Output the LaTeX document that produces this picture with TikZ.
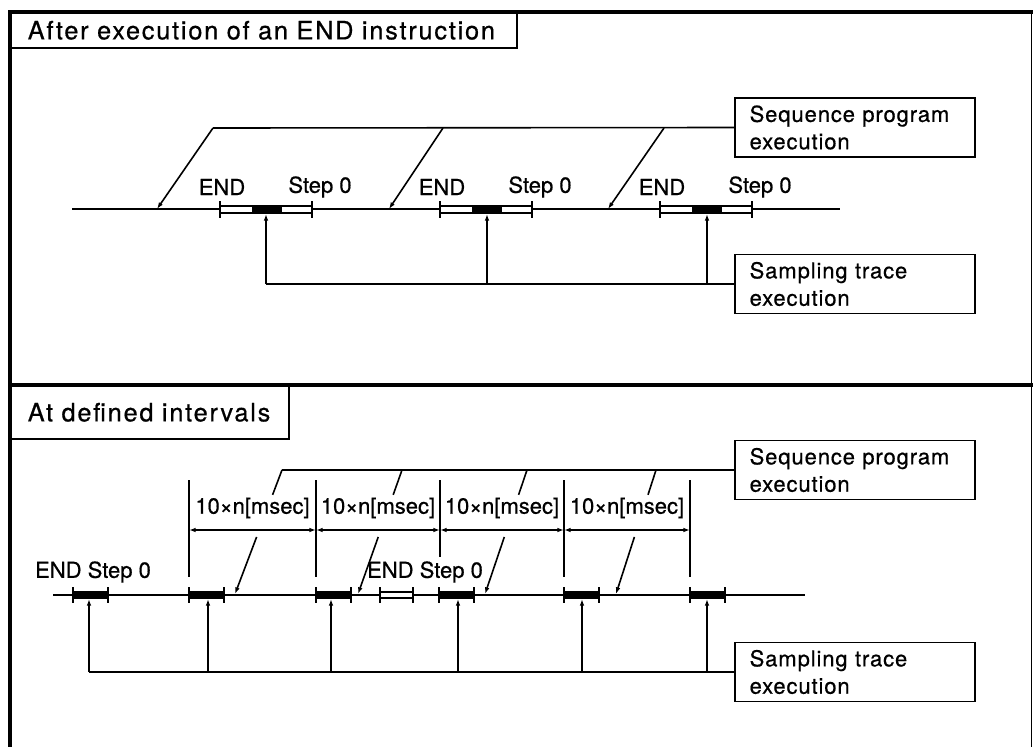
\documentclass[tikz,border=0pt]{standalone}
\usepackage{fontspec}
\setmainfont{TeX Gyre Heros}[FakeBold=0.6]
\newfontfamily\titlefont{TeX Gyre Heros}[LetterSpace=7,FakeBold=0.6]
\newfontfamily\boxfont{TeX Gyre Heros}[LetterSpace=4,FakeBold=0.6]
\usetikzlibrary{arrows.meta,calc}
\begin{document}
\begin{tikzpicture}[x=0.75pt,y=-0.75pt,
  frameline/.style={line width=2.4pt},
  thin/.style={line width=1.2pt},
  titlebox/.style={draw, thin, anchor=north west, inner xsep=12.75pt,
    align=left, font=\titlefont\fontsize{19}{22}\selectfont},
  infobox/.style={draw, thin, minimum width=180pt, minimum height=44.25pt,
    inner xsep=11pt, text width=158pt, align=left,
    font=\boxfont\fontsize{16.5}{20.5}\selectfont},
  lbl/.style={inner sep=0pt, font=\fontsize{16.5}{18}\selectfont},
  tip/.style={-{Latex[length=5pt,width=3.5pt]}},
  tips/.style={{Latex[length=5pt,width=3.5pt]}-{Latex[length=5pt,width=3.5pt]}},
  whitebar/.style={draw, fill=white, line width=1pt}]
\useasboundingbox (0,0) rectangle (1033,747);

% ---------- frame and panel titles ----------
\node[titlebox, minimum width=379.5pt, minimum height=26.25pt, text width=354pt]
  (ttlA) at (10,12) {After execution of an END instruction};
\node[titlebox, minimum width=208.5pt, minimum height=39.75pt, text width=183pt]
  (ttlB) at (10,385) {At defined intervals};
\draw[frameline] (1033,12) -- (10,12) -- (10,747);
\draw[frameline] (10,385) -- (1033,385);
\draw[line width=0.6pt] (1031.5,12) -- (1031.5,747);

% ---------- upper panel: sampling after END ----------
\node[infobox] (seqA) at (855,127.5) {Sequence program\\execution};
\node[infobox] (smpA) at (855,284) {Sampling trace\\execution};

\draw[thin] (72,209) -- (840,209);

\foreach \L in {220,440,660}{
  \draw[whitebar] (\L,206) rectangle (\L+92,213);
  \fill (\L+32,205) rectangle (\L+62,214);
  \draw[thin] (\L,201) -- (\L,218) (\L+92,201) -- (\L+92,218);
  \node[lbl] at (\L+2,187) {END};
  \node[lbl] at (\L+100,187) {Step 0};
}

% program execution run between END processings
\coordinate (pa1) at (157,209); \coordinate (qa1) at (213,128);
\coordinate (pa2) at (389,209); \coordinate (qa2) at (443,128);
\coordinate (pa3) at (608,209); \coordinate (qa3) at (664,128);
\draw[thin] (qa1) -- (seqA.west);
\foreach \i in {1,2,3} \draw[thin, tip] (qa\i) -- (pa\i);

% sampling trace taken at each END
\coordinate (ua1) at (266,284); \coordinate (va1) at (266,214);
\coordinate (ua2) at (487,284); \coordinate (va2) at (487,214);
\coordinate (ua3) at (707,284); \coordinate (va3) at (707,214);
\draw[thin] (ua1) -- (smpA.west);
\foreach \i in {1,2,3} \draw[thin, tip] (ua\i) -- (va\i);

% ---------- lower panel: sampling at fixed intervals ----------
\node[infobox] (seqB) at (855,470) {Sequence program\\execution};
\node[infobox] (smpB) at (855,672) {Sampling trace\\execution};

\draw[thin] (53,595) -- (805,595);

\foreach \L in {73,189,316,439,564,690}{
  \fill (\L,591) rectangle (\L+35,599);
  \draw[thin] (\L,587) -- (\L,603) (\L+35,587) -- (\L+35,603);
}
\draw[whitebar] (380,592) rectangle (413,598);
\draw[thin] (380,587) -- (380,603) (413,587) -- (413,603);

\node[lbl] (esB1) at (93,572) {END Step 0};
\node[lbl] (esB2) at (425,572) {END Step 0};

% interval marks
\draw[thin] (189,480) -- (189,577);
\draw[thin] (316,480) -- (316,577);
\draw[thin] (440,480) -- (440,557);
\draw[thin] (564,480) -- (564,577);
\draw[thin] (690,480) -- (690,577);
\coordinate (d1) at (189,530); \coordinate (d2) at (316,530);
\coordinate (d3) at (440,530); \coordinate (d4) at (564,530);
\coordinate (d5) at (690,530);
\foreach \a/\b in {1/2,2/3,3/4,4/5}{
  \draw[thin, tips] (d\a) -- (d\b);
  \node[lbl] at ($(d\a)!0.5!(d\b)+(0,-22)$) {10×n[msec]};
}

% program execution between sampling points
\coordinate (qb1) at (282,470); \coordinate (pb1) at (235,594);
\coordinate (qb2) at (402,470); \coordinate (pb2) at (358,594);
\coordinate (qb3) at (527,470); \coordinate (pb3) at (485,594);
\coordinate (qb4) at (656,470); \coordinate (pb4) at (616,594);
\draw[thin] (qb1) -- (seqB.west);
\foreach \i in {1,2,3,4}{
  \draw[thin] (qb\i) -- ($(qb\i)!0.2!(pb\i)$);
  \draw[thin, tip] ($(qb\i)!0.54!(pb\i)$) -- (pb\i);
}

% sampling trace points
\coordinate (ub1) at (89,672);  \coordinate (vb1) at (89,599);
\coordinate (ub2) at (208,672); \coordinate (vb2) at (208,599);
\coordinate (ub3) at (331,672); \coordinate (vb3) at (331,599);
\coordinate (ub4) at (458,672); \coordinate (vb4) at (458,599);
\coordinate (ub5) at (582,672); \coordinate (vb5) at (582,599);
\coordinate (ub6) at (707,672); \coordinate (vb6) at (707,599);
\draw[thin] (ub1) -- (smpB.west);
\foreach \i in {1,...,6} \draw[thin, tip] (ub\i) -- (vb\i);
\end{tikzpicture}
\end{document}
